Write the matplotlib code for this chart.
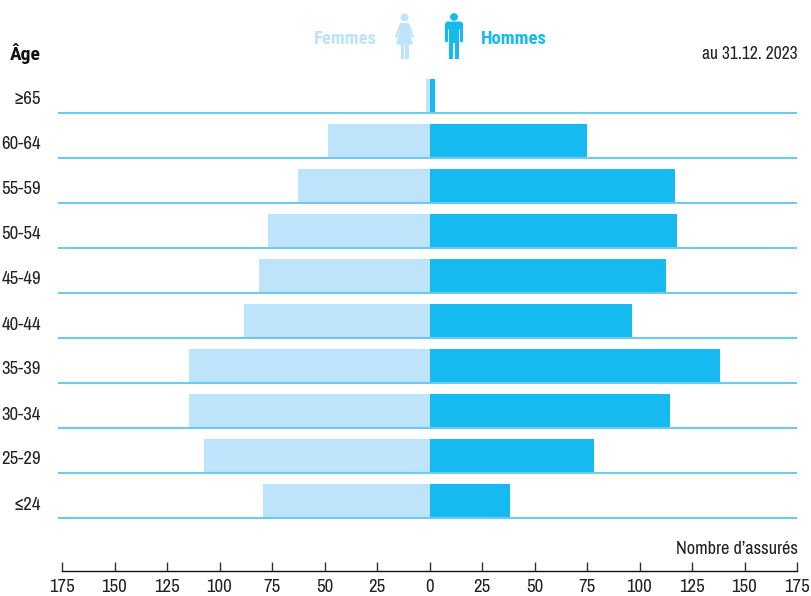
import matplotlib
matplotlib.use('Agg')
import matplotlib.pyplot as plt
from matplotlib.patches import Circle, Polygon, FancyBboxPatch

# Age groups, bottom to top
ages = ['≤24', '25-29', '30-34', '35-39', '40-44', '45-49', '50-54', '55-59', '60-64', '≥65']
femmes = [79.5, 107.5, 114.5, 114.5, 88.5, 81, 77, 62.5, 48.5, 1.5]
hommes = [38.5, 78.5, 114.5, 138.5, 96.5, 112.5, 118, 117, 75, 2.5]
ticks = [-175, -150, -125, -100, -75, -50, -25, 0, 25, 50, 75, 100, 125, 150, 175]

C_HOMMES = '#15bbf0'
C_FEMMES = '#bde4fa'
C_LINE = '#6fc8ee'
C_TEXT = '#222222'
BOLD_FONT = ['Roboto Condensed', 'Asap Condensed', 'Open Sans', 'Liberation Sans']

plt.rcParams['font.family'] = ['Archivo Narrow', 'Roboto Condensed', 'Open Sans', 'Liberation Sans', 'DejaVu Sans']
plt.rcParams['font.stretch'] = 'condensed'

W, H = 811, 596
fig = plt.figure(figsize=(W / 100, H / 100), dpi=100)

# axes box in pixels: x 62-797, y 60-571
ax = fig.add_axes([62 / W, 1 - 571 / H, 735 / W, 511 / H])
ax.set_xlim(-175, 175)
row = 45.0
ax.set_ylim((518 - 571) / row, (518 - 60) / row)

y = list(range(len(ages)))
bar_h = 34 / row
ax.barh(y, [-v for v in femmes], height=bar_h, align='edge', color=C_FEMMES, linewidth=0)
ax.barh(y, hommes, height=bar_h, align='edge', color=C_HOMMES, linewidth=0)
ax.hlines(y, -177, 175, color=C_LINE, linewidth=1.5, clip_on=False, zorder=3)

for s in ['top', 'left', 'right']:
    ax.spines[s].set_visible(False)
ax.spines['bottom'].set_linewidth(1.0)
ax.spines['bottom'].set_color('#111111')
ax.set_xticks(ticks)
ax.set_xticklabels([str(abs(t)) for t in ticks])
ax.tick_params(axis='x', direction='in', length=6.5, width=1.0, color='#333333',
               labelsize=13.5, labelcolor=C_TEXT, pad=6)

ax.set_yticks([i + 15 / row for i in y])
ax.set_yticklabels(ages)
ax.tick_params(axis='y', length=0, labelsize=13.5, labelcolor=C_TEXT, pad=15)

# overlay in pixel coordinates for titles and icons
ov = fig.add_axes([0, 0, 1, 1])
ov.set_xlim(0, W)
ov.set_ylim(H, 0)
ov.axis('off')
ov.patch.set_alpha(0)

ov.text(25.5, 53, 'Âge', ha='center', va='center', fontsize=14, fontweight='bold', family=BOLD_FONT, color='#111111')
ov.text(345, 39, 'Femmes', ha='center', va='center', fontsize=13.4, fontweight='bold', family=BOLD_FONT, color=C_FEMMES)
ov.text(514, 39, 'Hommes', ha='center', va='center', fontsize=13.4, fontweight='bold', family=BOLD_FONT, color=C_HOMMES)
ov.text(798, 54, 'au 31.12. 2023', ha='right', va='center', fontsize=12.6, color=C_TEXT)
ov.text(798, 549, 'Nombre d’assurés', ha='right', va='center', fontsize=13.2, color=C_TEXT)

# man icon
ov.add_patch(Circle((454, 17), 3.9, color=C_HOMMES, lw=0))
ov.add_patch(FancyBboxPatch((445, 21.5), 18, 8, boxstyle='round,pad=0,rounding_size=3', color=C_HOMMES, lw=0))
ov.add_patch(Polygon([(445, 25), (448.2, 25), (448.2, 42), (445, 42)], color=C_HOMMES, lw=0))
ov.add_patch(Polygon([(459.8, 25), (463, 25), (463, 42), (459.8, 42)], color=C_HOMMES, lw=0))
ov.add_patch(Polygon([(449.2, 24), (458.8, 24), (458.8, 59), (454.7, 59), (454.7, 43), (453.3, 43),
                      (453.3, 59), (449.2, 59)], color=C_HOMMES, lw=0))

# woman icon
ov.add_patch(Circle((404.5, 17.5), 3.9, color=C_FEMMES, lw=0))
ov.add_patch(Polygon([(400, 23), (409, 23), (414, 37), (412, 38), (409, 30), (413, 44.5), (396, 44.5),
                      (400, 30), (397, 38), (395, 37)], color=C_FEMMES, lw=0))
ov.add_patch(Polygon([(401, 44), (404, 44), (404, 59), (401, 59)], color=C_FEMMES, lw=0))
ov.add_patch(Polygon([(405, 44), (408.5, 44), (408.5, 59), (405, 59)], color=C_FEMMES, lw=0))

fig.savefig('out.png', dpi=100)
